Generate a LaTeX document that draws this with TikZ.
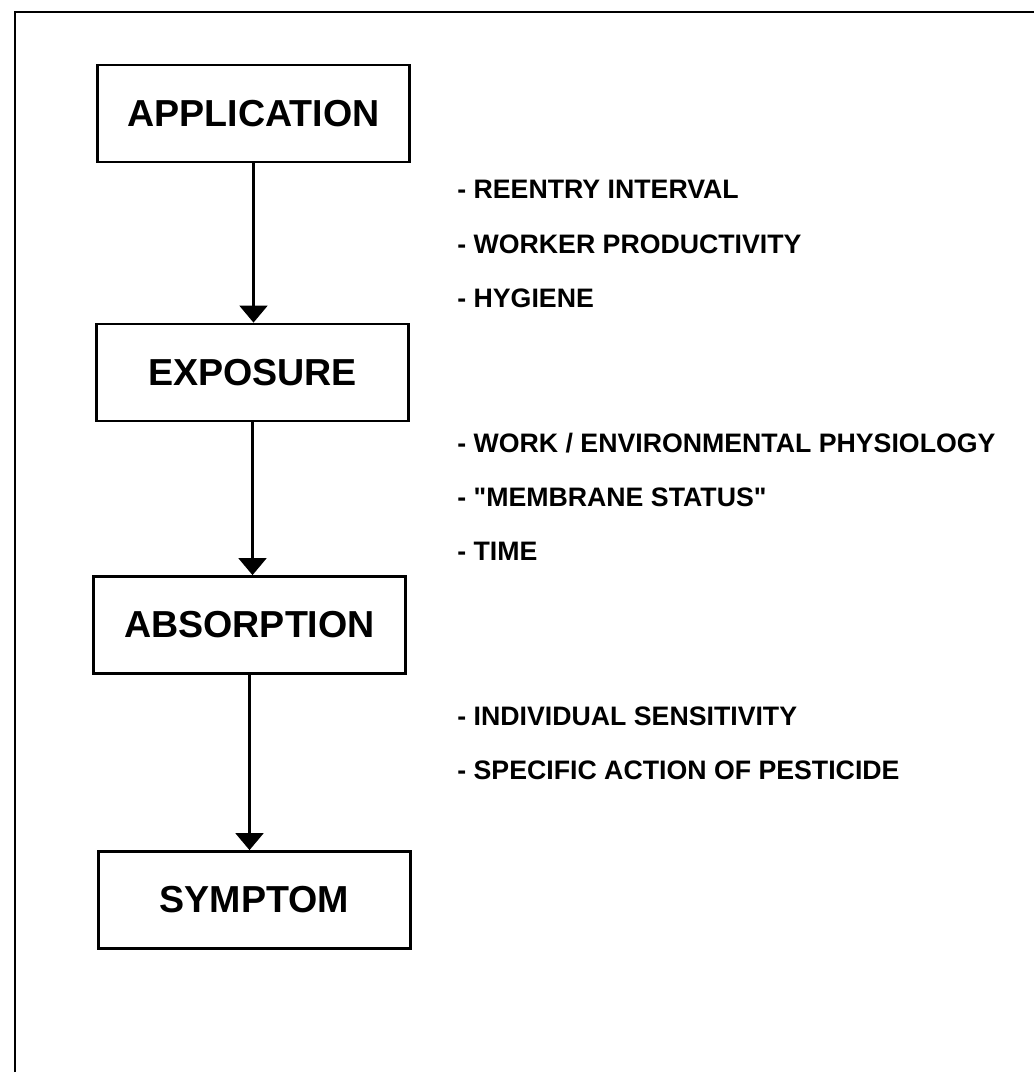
\documentclass[tikz,border=0pt]{standalone}
\usepackage{fontspec}
\setmainfont{Liberation Sans}
\usepackage{tikz}
\usetikzlibrary{arrows.meta}
\newcommand{\dquote}{\XeTeXglyph\XeTeXcharglyph"22\relax}

\begin{document}
\begin{tikzpicture}[x=0.02cm,y=-0.02cm,
    stage/.style={draw,line width=1.6pt,minimum width=6.24cm,minimum height=1.94cm,
        inner sep=0pt,font=\fontsize{21.4}{24}\selectfont\bfseries},
    factor/.style={anchor=west,inner sep=0pt,font=\fontsize{15.2}{18}\selectfont\bfseries},
    flow/.style={line width=1.2pt,-{Triangle[length=0.34cm,width=0.56cm]}}]
    \useasboundingbox (0,0) rectangle (1034,1076);
    \draw[line width=1.7pt] (15,1072) -- (15,12) -- (1034,12);
    % the four stages
    \node[stage] (application) at (253.5,113.5) {APPLICATION};
    \node[stage] (exposure)    at (252.5,372.5) {EXPOSURE};
    \node[stage] (absorption)  at (249.5,625)   {ABSORPTION};
    \node[stage] (symptom)     at (254.5,900)   {SYMPTOM};
    \draw[flow] (application.south) -- (application.south |- exposure.north);
    \draw[flow] (exposure.south) -- (exposure.south |- absorption.north);
    \draw[flow] (absorption.south) -- (absorption.south |- symptom.north);
    % factors between the stages
    \node[factor] (reentry)      at (457,189) {- REENTRY INTERVAL};
    \node[factor] (productivity) at (457,244) {- WORKER PRODUCTIVITY};
    \node[factor] (hygiene)      at (457,298) {- HYGIENE};
    \node[factor] (physiology)   at (457,443) {- WORK / ENVIRONMENTAL PHYSIOLOGY};
    \node[factor] (membrane)     at (457,497) {- \dquote MEMBRANE STATUS\dquote};
    \node[factor] (time)         at (457,551) {- TIME};
    \node[factor] (sensitivity)  at (457,716) {- INDIVIDUAL SENSITIVITY};
    \node[factor] (action)       at (457,770) {- SPECIFIC ACTION OF PESTICIDE};
\end{tikzpicture}
\end{document}
